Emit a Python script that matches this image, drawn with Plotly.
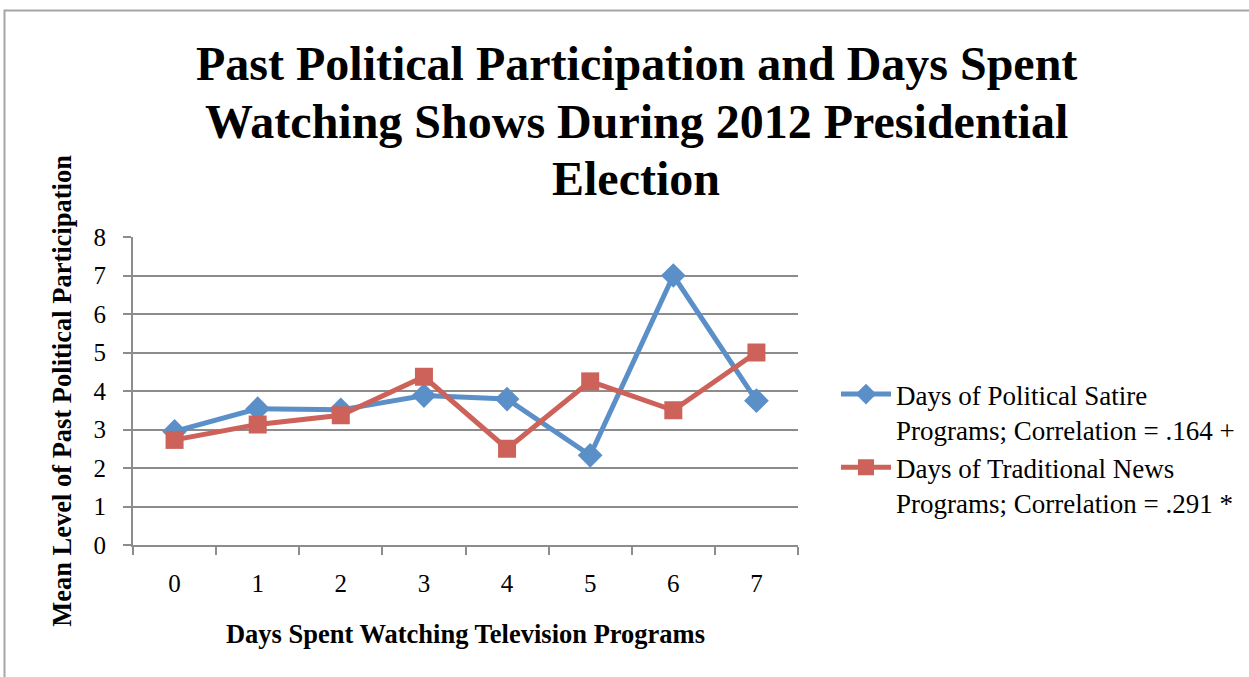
import plotly.graph_objects as go

# Days spent watching (categories) and mean past political participation
days = ["0", "1", "2", "3", "4", "5", "6", "7"]
satire_mean = [2.95, 3.54, 3.51, 3.88, 3.79, 2.33, 7.0, 3.75]
news_mean = [2.73, 3.13, 3.37, 4.37, 2.50, 4.25, 3.50, 5.0]
y_ticks = [0, 1, 2, 3, 4, 5, 6, 7, 8]

title_lines = [
    "Past Political Participation and Days Spent",
    "Watching Shows During 2012 Presidential",
    "Election",
]
satire_name = "Days of Political Satire<br>Programs; Correlation = .164 +"
news_name = "Days of Traditional News<br>Programs; Correlation = .291 *"

BLUE = "#5b8fc8"
RED = "#cc6259"
GRID = "#8c8c8c"
FONT = "Liberation Serif"

W, H = 1249, 677
L, R, T, B = 133, 798, 237, 545


def px_x(p):
    return (p - L) / (R - L)


def px_y(p):
    return (B - p) / (B - T)


fig = go.Figure()
fig.add_trace(go.Scatter(
    x=days, y=satire_mean, name=satire_name, mode="lines+markers",
    line=dict(color=BLUE, width=5),
    marker=dict(symbol="diamond", size=19, color=BLUE),
))
fig.add_trace(go.Scatter(
    x=days, y=news_mean, name=news_name, mode="lines+markers",
    line=dict(color=RED, width=5),
    marker=dict(symbol="square", size=18, color=RED),
))

# three-line bold title, tighter line spacing than the built-in title
title_y = [63, 121, 178]
annotations = [
    dict(text=f"<b>{t}</b>", xref="paper", yref="paper",
         x=px_x(636), y=px_y(yy), xanchor="center", yanchor="middle",
         showarrow=False, font=dict(family=FONT, size=48, color="black"))
    for t, yy in zip(title_lines, title_y)
]

fig.update_layout(
    width=W, height=H,
    margin=dict(l=L, r=W - R, t=T, b=H - B, pad=0, autoexpand=False),
    paper_bgcolor="white", plot_bgcolor="white",
    font=dict(family=FONT, size=25, color="black"),
    annotations=annotations,
    showlegend=True,
    legend=dict(
        x=px_x(836), xanchor="left", y=px_y(370), yanchor="top",
        font=dict(family=FONT, size=27, color="black"),
        bgcolor="rgba(0,0,0,0)", tracegroupgap=0, valign="top",
        itemwidth=50,
    ),
    xaxis=dict(
        type="category", categoryorder="array", categoryarray=days,
        range=[-0.5, 7.5],
        showline=True, linecolor=GRID, linewidth=2,
        ticks="outside", tickson="boundaries", ticklen=8, tickcolor=GRID, tickwidth=2,
        showgrid=False, tickfont=dict(family=FONT, size=25),
        ticklabelstandoff=15,
        title=dict(text="<b>Days Spent Watching Television Programs</b>",
                   font=dict(family=FONT, size=26.5), standoff=28),
    ),
    yaxis=dict(
        range=[0, 8], tickvals=y_ticks,
        showline=True, linecolor=GRID, linewidth=2,
        ticks="outside", ticklen=8, tickcolor=GRID, tickwidth=2,
        showgrid=True, gridcolor=GRID, gridwidth=2,
        zeroline=False, tickfont=dict(family=FONT, size=25),
        ticklabelstandoff=12,
        title=dict(text="<b>Mean Level of Past Political Participation</b>",
                   font=dict(family=FONT, size=26.5), standoff=14),
    ),
    shapes=[dict(
        type="rect", xref="paper", yref="paper",
        x0=px_x(4.5), x1=px_x(1300), y0=px_y(800), y1=px_y(10.5),
        line=dict(color="#a6a6a6", width=2), fillcolor="rgba(0,0,0,0)", layer="below",
    )],
)

fig.write_html("out.html")
